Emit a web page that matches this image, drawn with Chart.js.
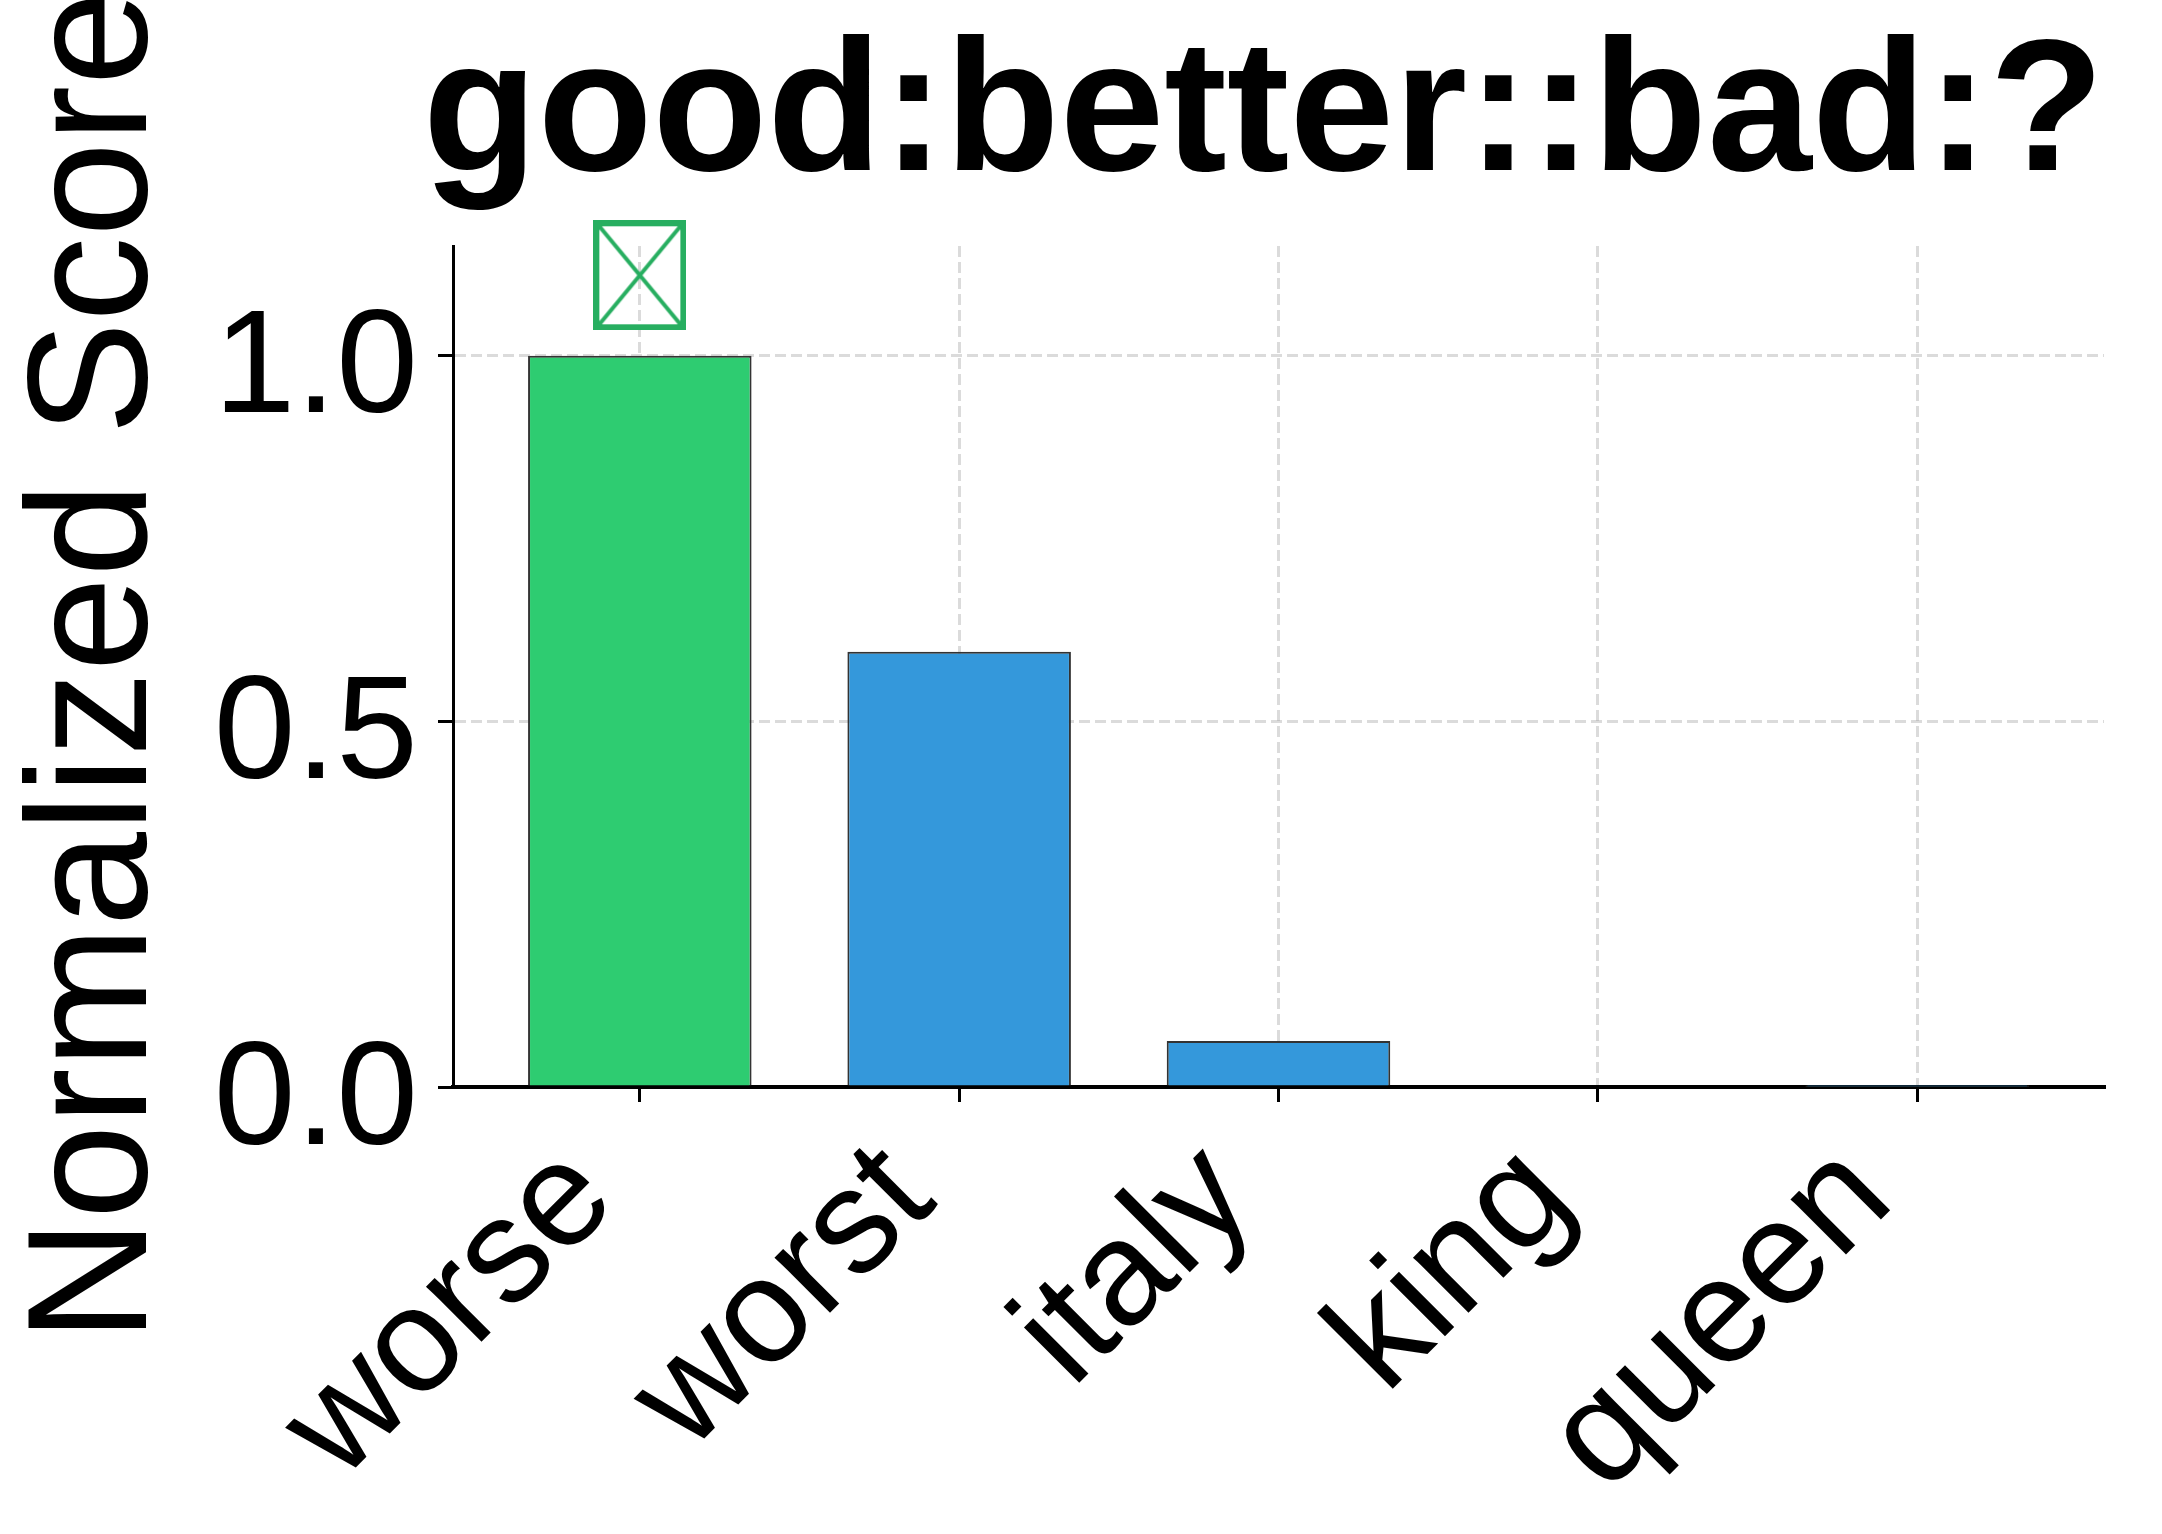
<!DOCTYPE html>
<html>
<head>
<meta charset="utf-8">
<script src="https://cdn.jsdelivr.net/npm/chart.js@4.4.1/dist/chart.umd.min.js"></script>
<style>
  html, body { margin: 0; padding: 0; background: #fff; }
  #wrap { width: 2162px; height: 1534px; position: relative; }
</style>
</head>
<body>
<div id="wrap"><canvas id="chart"></canvas></div>
<script>
// data
const words = ["worse", "worst", "italy", "king", "queen"];
const scores = [1.0, 0.595, 0.063, 0.002, 0.0003];
const barColors = ["#2ecc71", "#3498db", "#3498db", "#3498db", "#3498db"];
const answerMark = [{ x: 0, y: 1.11 }];   // boxed X above the expected answer
const yTicks = [0, 0.5, 1.0];
const titleText = "good:better::bad:?";
const yTitle = "Normalized Score";

const FONT = "'Liberation Sans', Arial, sans-serif";

// open green box with an X through it
function makeMarker(w, h) {
    const c = document.createElement("canvas");
    c.width = w;
    c.height = h;
    const ctx = c.getContext("2d");
    ctx.strokeStyle = "#27ae60";
    ctx.lineWidth = 6;
    ctx.strokeRect(3, 3, w - 6, h - 6);
    ctx.lineWidth = 4;
    ctx.beginPath();
    ctx.moveTo(6, 6); ctx.lineTo(w - 6, h - 6);
    ctx.moveTo(w - 6, 6); ctx.lineTo(6, h - 6);
    ctx.stroke();
    return c;
}

const gridColor = 'rgba(160,160,160,0.38)';

new Chart(document.getElementById("chart"), {
    type: 'bar',
    data: {
        datasets: [
            {
                type: 'bar',
                data: words.map((w, i) => ({ x: i, y: scores[i] })),
                backgroundColor: barColors,
                borderColor: '#333333',
                borderWidth: 2,
                categoryPercentage: 1,
                barPercentage: 0.7,
                order: 2
            },
            {
                type: 'scatter',
                data: answerMark,
                pointStyle: makeMarker(93, 110),
                pointRadius: 5,
                clip: false,
                order: 1
            }
        ]
    },
    options: {
        responsive: true,
        maintainAspectRatio: false,
        animation: false,
        devicePixelRatio: 1,
        layout: { padding: { left: 0, right: 58, top: 0, bottom: 0 } },
        plugins: {
            legend: { display: false },
            tooltip: { enabled: false },
            title: {
                display: true,
                text: titleText,
                align: 'end',
                color: '#000',
                font: { family: FONT, size: 188, weight: 'bold', lineHeight: 1 },
                padding: { top: 24, bottom: 34 }
            }
        },
        scales: {
            x: {
                type: 'linear',
                min: -0.585,
                max: 4.585,
                offset: false,
                z: 1,
                afterBuildTicks: s => { s.ticks = words.map((w, i) => ({ value: i })); },
                afterFit: s => { s.height = 447; },
                grid: {
                    offset: false,
                    color: gridColor,
                    lineWidth: 3,
                    tickColor: '#000',
                    tickWidth: 3,
                    tickLength: 15,
                    tickBorderDash: []
                },
                border: { display: true, color: '#000', width: 4, dash: [11, 5] },
                ticks: {
                    color: '#000',
                    font: { family: FONT, size: 148 },
                    minRotation: 45,
                    maxRotation: 45,
                    autoSkip: false,
                    padding: 10,
                    labelOffset: -49,
                    callback: v => words[v]
                }
            },
            y: {
                min: 0,
                max: 1.15,
                z: 1,
                afterBuildTicks: s => { s.ticks = yTicks.map(v => ({ value: v })); },
                afterFit: s => { s.width = 453; },
                grid: {
                    color: gridColor,
                    lineWidth: 3,
                    tickColor: '#000',
                    tickWidth: 3,
                    tickLength: 15,
                    tickBorderDash: []
                },
                border: { display: true, color: '#000', width: 3, dash: [11, 5] },
                ticks: {
                    color: '#000',
                    font: { family: FONT, size: 147 },
                    padding: 20,
                    labelOffset: 16,
                    callback: v => v.toFixed(1)
                },
                title: {
                    display: true,
                    text: yTitle,
                    color: '#000',
                    font: { family: FONT, size: 170, lineHeight: 1 },
                    padding: { top: 14, bottom: 0 }
                }
            }
        }
    }
});
</script>
</body>
</html>
